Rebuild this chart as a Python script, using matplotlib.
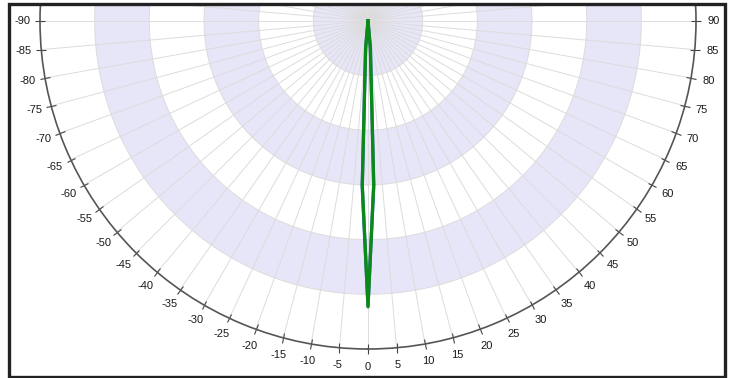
import numpy as np
import matplotlib
matplotlib.use("Agg")
import matplotlib.pyplot as plt
from matplotlib.patches import Rectangle

# polar pattern: angle (deg) -> radius (radial scale 0..60)
angles_deg = [-90, -10, -5, -2, 0, 2, 5, 10, 90]
green_r = [0, 0, 5, 30, 52.3, 30, 5, 0, 0]
blue_r = [0, 0, 5, 30.3, 52.1, 30.1, 5, 0, 0]

band_edges = [0, 10, 20, 30, 40, 50, 60]
shaded_bands = [(0, 10), (20, 30), (40, 50)]
tick_step = 5

W, H, DPI = 731, 378, 100
fig = plt.figure(figsize=(W / DPI, H / DPI), dpi=DPI)
fig.patch.set_facecolor("white")

# centre of the dial sits near the top of the frame, outer radius ~328 px
cx, cy, R = 368, 21, 328
ax = fig.add_axes([(cx - R) / W, (H - cy - R) / H, 2 * R / W, 2 * R / H],
                  projection="polar")
ax.set_theta_zero_location("S")
ax.set_theta_direction(1)
ax.set_ylim(0, band_edges[-1])

for lo, hi in shaded_bands:
    ax.bar(0, hi - lo, width=2 * np.pi, bottom=lo, color="#e6e6f8",
           edgecolor="none", zorder=0.2, align="edge")

ticks = np.arange(0, 360, tick_step)
labels = []
for a in ticks:
    if a <= 90:
        labels.append(str(a))
    elif a >= 270:
        labels.append(str(a - 360))
    else:
        labels.append("")
ax.set_thetagrids(ticks, labels)
ax.set_rgrids(band_edges[1:-1], labels=[])
ax.set_axisbelow(True)
ax.grid(True, color="#dcdcdc", linewidth=0.7)
# tick2 sits on the outer rim of a polar axes
ax.tick_params(axis="x", which="major", direction="inout", length=3.5, width=0.8,
               colors="#444444", labelcolor="#1a1a1a", labelsize=8, pad=4,
               tick1On=False, tick2On=True)
for lbl in ax.get_xticklabels():
    lbl.set_fontfamily("Liberation Sans")
ax.spines["polar"].set_color("#555555")
ax.spines["polar"].set_linewidth(1.2)

th = np.deg2rad(angles_deg)
ax.plot(th, blue_r, color="#3a62c8", linewidth=2.4, zorder=3)
ax.plot(th, green_r, color="#0a8a16", linewidth=2.3, zorder=4)

# white strip above the frame and the frame itself
fig.patches.append(Rectangle((0, (H - 4) / H), 1, 4 / H, transform=fig.transFigure,
                             facecolor="white", edgecolor="none", zorder=5))
fig.patches.append(Rectangle((9 / W, 1 / H), (725 - 9) / W, (374 - 1) / H,
                             transform=fig.transFigure, fill=False,
                             edgecolor="#222222", linewidth=2.4, zorder=6))

fig.savefig("out.png", dpi=DPI)
